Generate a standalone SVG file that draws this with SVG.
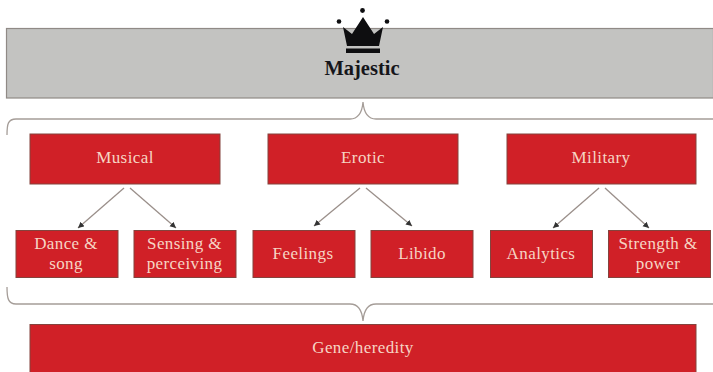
<svg xmlns="http://www.w3.org/2000/svg" width="713" height="372" viewBox="0 0 713 372">
<defs>
<marker id="arrow" markerWidth="8" markerHeight="8" refX="6" refY="3" orient="auto" markerUnits="userSpaceOnUse"><path d="M0,0L6,3L0,6Z" fill="#333"/></marker>
</defs>
<style>
.box{fill:#d02027;stroke:#84433d;stroke-width:1}
.t{font-family:"Liberation Serif","DejaVu Serif",serif;font-size:17px;fill:#f6d5c4;text-anchor:middle;letter-spacing:.4px}
.c{fill:none;stroke:#a59d98;stroke-width:1.3}
</style>
<rect width="713" height="372" fill="#fff"/>
<g id="majestic">
<rect x="6.500" y="28.500" width="707" height="69.500" fill="#c3c3c1" stroke="#908a86" stroke-width="1.200"/>
<path d="M347,46L343,27L352,34L363,17L374,34L383,27L379,46Z" fill="#0e0e10"/>
<rect x="346" y="48.500" width="34" height="4.500" fill="#0e0e10"/>
<circle cx="362.500" cy="10.500" r="2.400" fill="#0e0e10"/>
<circle cx="339" cy="21.500" r="2.300" fill="#0e0e10"/>
<circle cx="387" cy="21.500" r="2.300" fill="#0e0e10"/>
<text x="362" y="75" text-anchor="middle" font-family="Liberation Serif,serif" font-size="20.500" font-weight="700" fill="#15151a">Majestic</text>
</g>
<g id="connectors">
<path class="c" d="M7,135C7,124 8,119 16,119L350,119C358,119 362,114 363,102C364,114 368,119 376,119L713,119"/>
<path class="c" d="M7,287C7,298 8,304 16,304L350,304C358,304 362,309 363,321C364,309 368,304 376,304L713,304"/>
<g stroke="#9a8f8a" stroke-width="1.300" fill="none" marker-end="url(#arrow)">
<path d="M124,188L78,228"/><path d="M130,188L176,228"/>
<path d="M360,188L314,226"/><path d="M366,188L412,226"/>
<path d="M599,188L553,228"/><path d="M605,188L649,228"/>
</g>
</g>
<g id="musical"><rect class="box" x="30" y="134" width="190" height="50"/><text class="t" x="125" y="163">Musical</text></g>
<g id="erotic"><rect class="box" x="268" y="134" width="190" height="50"/><text class="t" x="363" y="163">Erotic</text></g>
<g id="military"><rect class="box" x="507" y="134" width="189" height="50"/><text class="t" x="601" y="163">Military</text></g>
<g id="dance"><rect class="box" x="16" y="230.500" width="102" height="47"/><text class="t" x="66" y="249">Dance &amp;</text><text class="t" x="66" y="269">song</text></g>
<g id="sensing"><rect class="box" x="134" y="230.500" width="102" height="47"/><text class="t" x="184.500" y="249">Sensing &amp;</text><text class="t" x="184.500" y="269">perceiving</text></g>
<g id="feelings"><rect class="box" x="253" y="230.500" width="102" height="47"/><text class="t" x="303" y="259">Feelings</text></g>
<g id="libido"><rect class="box" x="371" y="230.500" width="102" height="47"/><text class="t" x="422" y="259">Libido</text></g>
<g id="analytics"><rect class="box" x="490.500" y="230.500" width="102" height="47"/><text class="t" x="541" y="259">Analytics</text></g>
<g id="strength"><rect class="box" x="608.500" y="230.500" width="102" height="47"/><text class="t" x="658" y="249">Strength &amp;</text><text class="t" x="658" y="269">power</text></g>
<g id="gene"><rect class="box" x="30" y="324.500" width="666" height="48"/><text class="t" x="363" y="353">Gene/heredity</text></g>
</svg>
